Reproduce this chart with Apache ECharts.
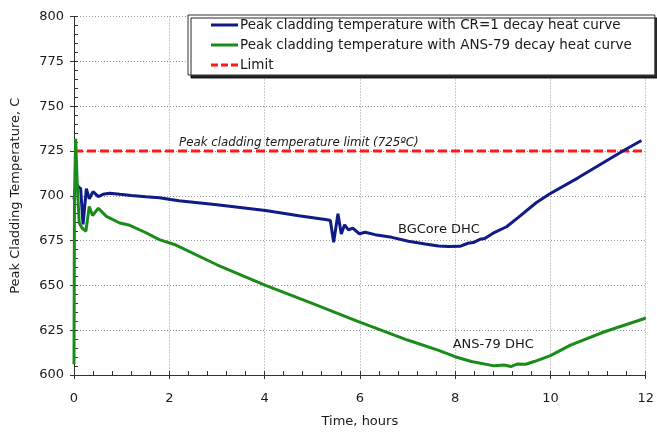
<!DOCTYPE html>
<html>
<head>
<meta charset="utf-8">
<script src="https://cdn.jsdelivr.net/npm/echarts@6/dist/echarts.min.js"></script>
<style>
html,body{margin:0;padding:0;background:#fff;}
#chart{width:657px;height:433px;}
</style>
</head>
<body>
<div id="chart"></div>
<script>
// Peak cladding temperature with CR=1 decay heat curve (BGCore DHC)
var crTime = [0, 0.04, 0.09, 0.14, 0.19, 0.26, 0.32, 0.40, 0.51, 0.61, 0.75, 0.96, 1.2, 1.51, 1.79, 2.2, 3.0, 4.02, 4.72, 5.31, 5.38, 5.45, 5.54, 5.61, 5.68, 5.76, 5.85, 5.99, 6.11, 6.32, 6.67, 7.02, 7.37, 7.65, 7.86, 8.1, 8.27, 8.38, 8.52, 8.62, 8.83, 9.08, 9.32, 9.7, 9.98, 10.58, 11.52, 11.91];
var crTemp = [698, 707, 705, 704, 684, 704, 698.3, 702.3, 699.5, 700.8, 701.4, 700.8, 700.2, 699.5, 698.9, 697.2, 695, 691.8, 688.9, 686.6, 686.2, 674, 690, 678.6, 683.8, 680.9, 682, 678.8, 679.6, 678.3, 676.8, 674.6, 673.1, 672, 671.7, 671.8, 673.5, 673.9, 675.7, 676.2, 679.6, 682.7, 687.8, 696.1, 701, 710, 725, 730.8];

// Peak cladding temperature with ANS-79 decay heat curve
var ansTime = [0, 0.01, 0.035, 0.07, 0.11, 0.17, 0.25, 0.32, 0.39, 0.51, 0.68, 0.96, 1.17, 1.5, 1.79, 2.14, 3.0, 4.02, 5.0, 5.97, 7.0, 7.64, 8.0, 8.34, 8.82, 9.03, 9.17, 9.31, 9.48, 9.66, 10.0, 10.42, 11.12, 11.96, 12.0];
var ansTemp = [606, 700, 731.8, 705, 684.8, 682, 680.2, 694, 689, 693, 688.5, 684.8, 683.5, 679.5, 675.5, 672.5, 661.5, 650, 640, 629.8, 619.5, 613.9, 610.2, 607.5, 605.1, 605.6, 604.7, 606.2, 606, 607.5, 610.8, 616.7, 624, 631.4, 632];

// Limit
var limitTime = [0, 12];
var limitTemp = [725, 725];

var seriesNames = [
  'Peak cladding temperature with CR=1 decay heat curve',
  'Peak cladding temperature with ANS-79 decay heat curve',
  'Limit'
];

var xTicks = [0, 2, 4, 6, 8, 10, 12];
var yTicks = [600, 625, 650, 675, 700, 725, 750, 775, 800];

var annotations = [
  {x: 4.72, y: 729.3, text: 'Peak cladding temperature limit (725ºC)', italic: true, size: 11.8},
  {x: 7.66, y: 681.0, text: 'BGCore DHC', italic: false, size: 13},
  {x: 8.8, y: 617.0, text: 'ANS-79 DHC', italic: false, size: 13}
];

function zip(a, b) { return a.map(function (v, i) { return [v, b[i]]; }); }

var FONT = 'DejaVu Sans';
var solidIcon = 'path://M0,0h27v3h-27z';
var dashIcon = 'path://M0,0h7v3h-7z M10,0h7v3h-7z M20,0h7v3h-7z';

var chart = echarts.init(document.getElementById('chart'), null, {renderer: 'canvas'});

var option = {
  backgroundColor: '#ffffff',
  animation: false,
  textStyle: {fontFamily: FONT},
  grid: {left: 74, right: 8.5, top: 16.5, bottom: 54.5, containLabel: false},
  legend: {
    orient: 'vertical',
    left: 188,
    top: 15,
    padding: [3, 23, 3, 23],
    itemGap: 6,
    itemWidth: 27,
    itemHeight: 14,
    symbolKeepAspect: true,
    backgroundColor: '#ffffff',
    borderColor: '#333333',
    borderWidth: 1,
    shadowColor: 'rgba(0,0,0,0.85)',
    shadowBlur: 0,
    shadowOffsetX: 3,
    shadowOffsetY: 3,
    textStyle: {fontFamily: FONT, fontSize: 13.5, color: '#1a1a1a', padding: [0, 0, 0, -3]},
    data: [
      {name: seriesNames[0], icon: solidIcon},
      {name: seriesNames[1], icon: solidIcon},
      {name: seriesNames[2], icon: dashIcon}
    ]
  },
  xAxis: [{
    type: 'value', min: 0, max: 12, interval: 2,
    name: 'Time, hours', nameLocation: 'middle', nameGap: 40,
    nameTextStyle: {fontFamily: FONT, fontSize: 13, color: '#1a1a1a'},
    axisLine: {show: true, lineStyle: {color: '#333', width: 1}},
    axisTick: {show: true, inside: true, length: 4, lineStyle: {color: '#333'}},
    minorTick: {show: true, splitNumber: 5, length: 4, lineStyle: {color: '#333'}},
    axisLabel: {margin: 17, fontFamily: FONT, fontSize: 13, color: '#1a1a1a',
      formatter: function (v) { return xTicks.indexOf(v) >= 0 ? String(v) : ''; }},
    splitLine: {show: true, lineStyle: {color: '#9a9a9a', type: [1, 2], width: 1}}
  }, {
    type: 'value', min: 0, max: 12, interval: 2, position: 'bottom',
    axisLine: {show: false},
    axisTick: {show: true, inside: false, length: 4, lineStyle: {color: '#333'}},
    axisLabel: {show: false},
    splitLine: {show: false}
  }],
  yAxis: [{
    type: 'value', min: 600, max: 800, interval: 25,
    name: 'Peak Cladding Temperature, C', nameLocation: 'middle', nameGap: 52,
    nameTextStyle: {fontFamily: FONT, fontSize: 13, color: '#1a1a1a'},
    axisLine: {show: true, lineStyle: {color: '#333', width: 1}},
    axisTick: {show: true, inside: true, length: 4, lineStyle: {color: '#333'}},
    minorTick: {show: true, splitNumber: 5, length: 4, lineStyle: {color: '#333'}},
    axisLabel: {margin: 10, fontFamily: FONT, fontSize: 13, color: '#1a1a1a',
      formatter: function (v) { return yTicks.indexOf(v) >= 0 ? String(v) : ''; }},
    splitLine: {show: true, lineStyle: {color: '#9a9a9a', type: [1, 2], width: 1}}
  }, {
    type: 'value', min: 600, max: 800, interval: 25, position: 'left',
    axisLine: {show: false},
    axisTick: {show: true, inside: false, length: 4, lineStyle: {color: '#333'}},
    axisLabel: {show: false},
    splitLine: {show: false}
  }],
  series: [{
    name: seriesNames[0], type: 'line', symbol: 'none', smooth: false,
    data: zip(crTime, crTemp),
    lineStyle: {color: '#0f1b86', width: 3}, itemStyle: {color: '#0f1b86'}, z: 3
  }, {
    name: seriesNames[1], type: 'line', symbol: 'none', smooth: false,
    data: zip(ansTime, ansTemp),
    lineStyle: {color: '#1a8c1a', width: 3}, itemStyle: {color: '#1a8c1a'}, z: 4
  }, {
    name: seriesNames[2], type: 'line', symbol: 'none',
    data: zip(limitTime, limitTemp),
    lineStyle: {color: '#ff1a1a', width: 3, type: [9, 4]}, itemStyle: {color: '#ff1a1a'}, z: 2
  }]
};

chart.setOption(option);

var graphics = annotations.map(function (a) {
  var p = chart.convertToPixel({xAxisIndex: 0, yAxisIndex: 0}, [a.x, a.y]);
  return {
    type: 'text', x: p[0], y: p[1], z: 10,
    style: {
      text: a.text, fill: '#1a1a1a',
      font: (a.italic ? 'italic ' : '') + a.size + 'px "' + FONT + '"',
      align: 'center', verticalAlign: 'middle'
    }
  };
});
chart.setOption({graphic: graphics});
</script>
</body>
</html>
